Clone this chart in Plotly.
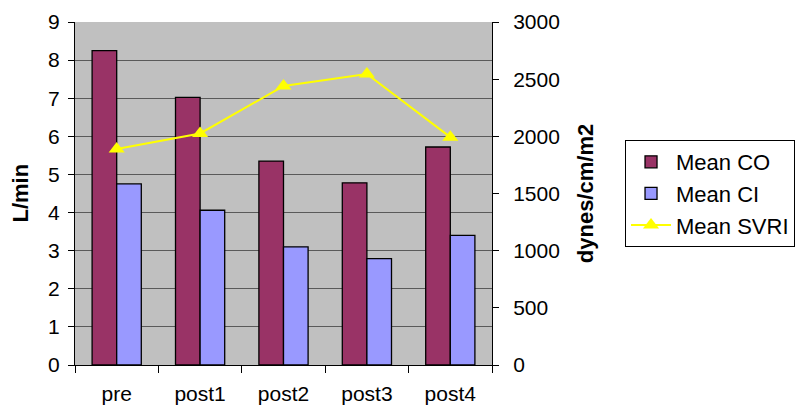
import plotly.graph_objects as go

categories = ["pre", "post1", "post2", "post3", "post4"]
mean_co = [8.25, 7.02, 5.35, 4.78, 5.72]
mean_ci = [4.75, 4.06, 3.10, 2.79, 3.40]
mean_svri = [1890, 2025, 2440, 2545, 1993]

fig = go.Figure()
fig.add_trace(go.Bar(x=categories, y=mean_co, name="Mean CO",
                     marker=dict(color="#993366", line=dict(color="black", width=1.3))))
fig.add_trace(go.Bar(x=categories, y=mean_ci, name="Mean CI",
                     marker=dict(color="#9999FF", line=dict(color="black", width=1.3))))
fig.add_trace(go.Scatter(x=categories, y=mean_svri, name="Mean SVRI", yaxis="y2",
                         mode="lines+markers",
                         line=dict(color="#FFFF00", width=2),
                         marker=dict(symbol="triangle-up", size=14, color="#FFFF00")))

font = "Liberation Sans, Arial, sans-serif"
fig.update_layout(
    width=796, height=413,
    margin=dict(l=75, r=304, t=22, b=48, autoexpand=False),
    paper_bgcolor="white", plot_bgcolor="#C0C0C0",
    barmode="group", bargap=0.41, bargroupgap=0,
    font=dict(family=font, size=21, color="black"),
    showlegend=True,
    legend=dict(x=1.319, y=0.656, xanchor="left", yanchor="top",
                bordercolor="black", borderwidth=1, bgcolor="white",
                font=dict(size=22), tracegroupgap=0, itemwidth=40),
    xaxis=dict(type="category", tickson="boundaries", ticks="outside",
               ticklen=7, tickcolor="black", showline=True, linecolor="black",
               showgrid=False, tickfont=dict(size=21), automargin=False,
               ticklabelstandoff=10),
    xaxis2=dict(type="category", overlaying="x", side="bottom", anchor="y",
                tickson="boundaries", ticks="inside", ticklen=7, tickcolor="black",
                showticklabels=False, showgrid=False, showline=False,
                categoryorder="array", categoryarray=categories,
                range=[-0.5, 4.5], automargin=False),
    yaxis=dict(range=[0, 9], dtick=1, ticks="outside", ticklen=6,
               tickcolor="black", showline=True, linecolor="black",
               gridcolor="#5a5a5a", gridwidth=1.2, zeroline=False,
               tickfont=dict(size=21), automargin=False, ticklabelstandoff=4),
    yaxis3=dict(range=[0, 9], dtick=1, overlaying="y", side="left", anchor="x",
                ticks="inside", ticklen=6, tickcolor="black",
                showticklabels=False, showgrid=False, showline=False,
                zeroline=False, automargin=False),
    yaxis2=dict(range=[0, 3000], dtick=500, overlaying="y", side="right",
                ticks="outside", ticklen=6, tickcolor="black",
                showline=True, linecolor="black", showgrid=False, zeroline=False,
                title=dict(text="<b>dynes/cm/m2</b>", font=dict(size=22), standoff=18),
                tickfont=dict(size=21), automargin=False, ticklabelstandoff=10),
    yaxis4=dict(range=[0, 3000], dtick=500, overlaying="y", side="right", anchor="x",
                ticks="inside", ticklen=6, tickcolor="black",
                showticklabels=False, showgrid=False, showline=False,
                zeroline=False, automargin=False),
    annotations=[dict(text="<b>L/min</b>", xref="paper", yref="paper", x=0, y=0.5,
                      xanchor="center", yanchor="middle", xshift=-55, textangle=-90,
                      showarrow=False, font=dict(size=22))],
)
fig.write_html("out.html", config={"displayModeBar": False},
               post_script="document.body.style.margin='0';")
